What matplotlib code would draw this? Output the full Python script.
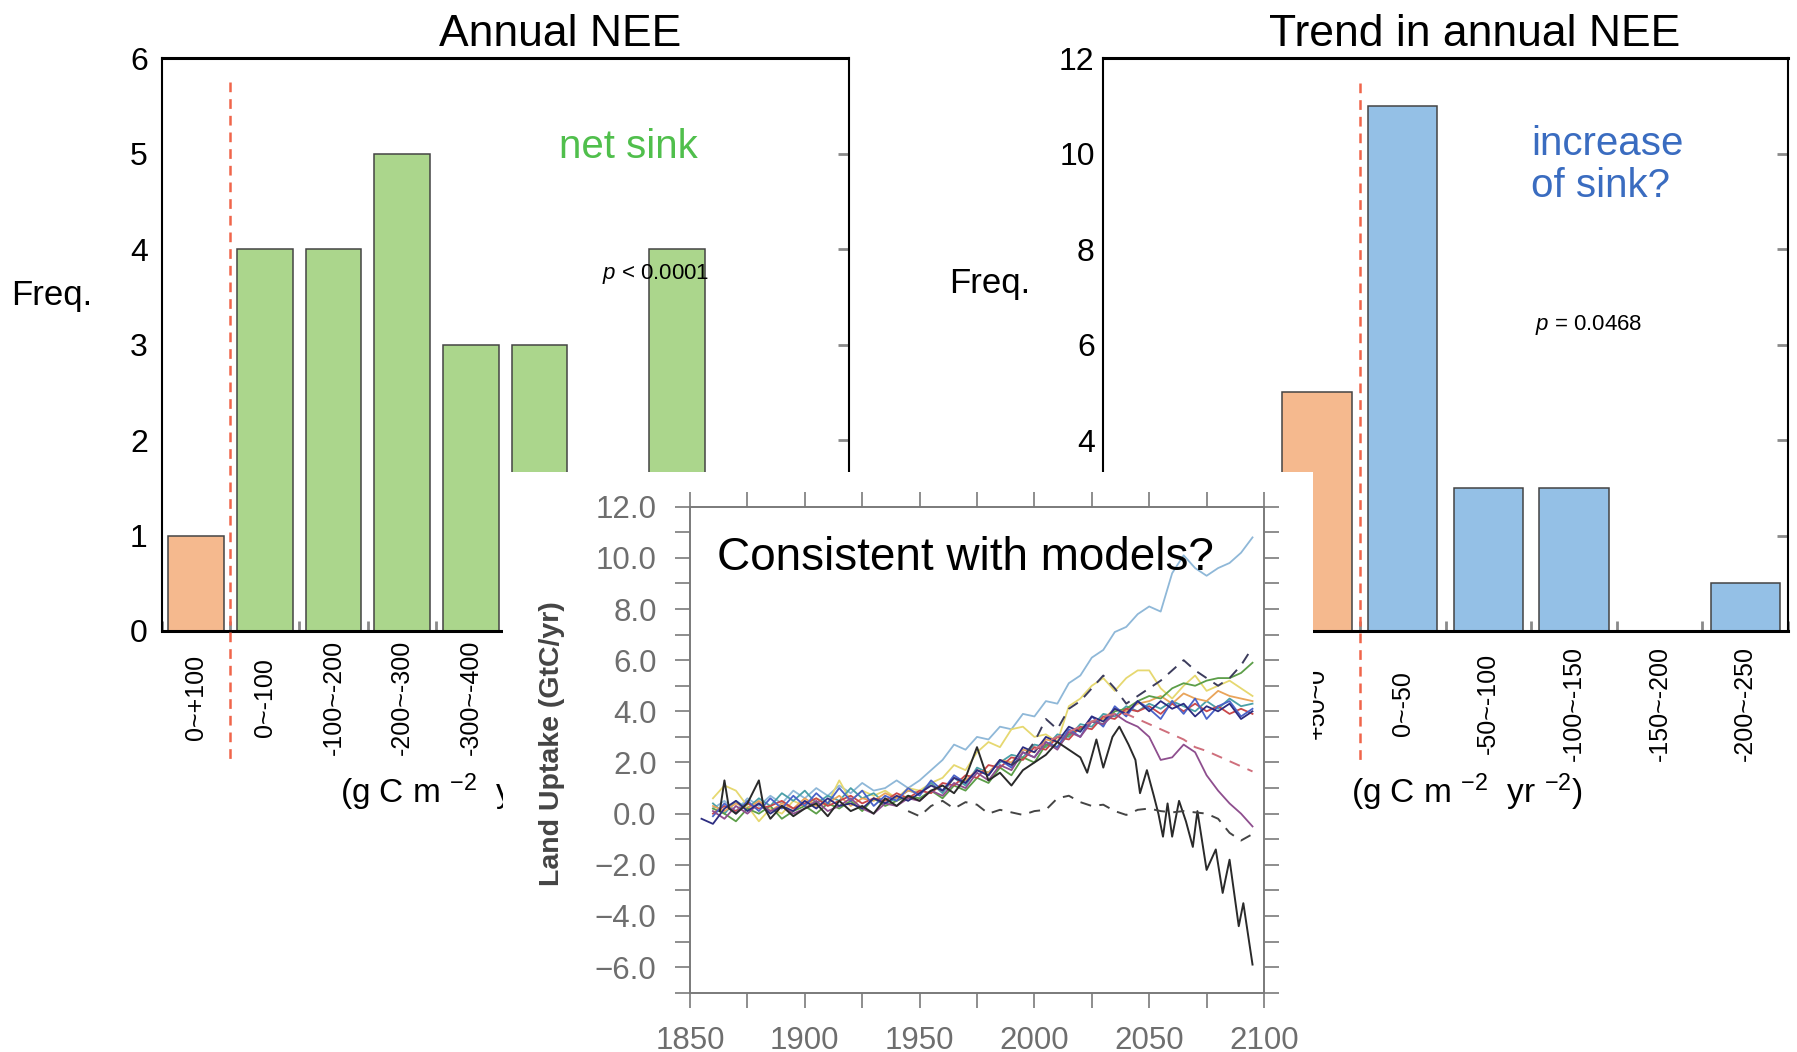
import numpy as np
import matplotlib
matplotlib.use('Agg')
import matplotlib.pyplot as plt
from matplotlib.ticker import MultipleLocator, FuncFormatter

plt.rcParams['font.family'] = ['Liberation Sans', 'DejaVu Sans']
plt.rcParams['mathtext.fontset'] = 'custom'
plt.rcParams['mathtext.rm'] = 'Liberation Sans'
plt.rcParams['mathtext.it'] = 'Liberation Sans:italic'
plt.rcParams['mathtext.bf'] = 'Liberation Sans:bold'
plt.rcParams['lines.scale_dashes'] = False

# ---------------- data ----------------
nee_labels = ['0~+100', '0~-100', '-100~-200', '-200~-300', '-300~-400',
              '-400~-500', '-500~-600', '-600~-700', '-700~-800', '-800~-900']
nee_freq = [1, 4, 4, 5, 3, 3, 0, 4, 0, 0]
nee_n_source = 1

trend_labels = ['+150~+100', '+100~+50', '+50~0', '0~-50', '-50~-100',
                '-100~-150', '-150~-200', '-200~-250']
trend_freq = [0, 0, 5, 11, 3, 3, 0, 1]
trend_n_source = 3

years5 = list(range(1860, 2100, 5))          # 1860 ... 2095
years5_navy = list(range(1855, 2100, 5))     # 1855 ... 2095

lightblue = [0.2, 0.5, 0.1, 0.6, 0.3, 0.7, 0.4, 0.9, 0.6, 1.0,
             0.7, 1.1, 0.8, 1.2, 0.9, 1.0, 1.3, 1.0, 1.3, 1.7,
             2.1, 2.7, 2.5, 3.0, 2.9, 3.4, 3.3, 3.9, 3.8, 4.4,
             4.3, 5.1, 5.4, 6.1, 6.4, 7.1, 7.3, 7.8, 8.1, 7.9,
             9.4, 10.1, 9.6, 9.3, 9.6, 9.8, 10.2, 10.8]
yellow = [0.6, 1.1, 0.9, 0.3, -0.3, 0.2, 0.0, 0.5, 0.3, 0.6,
          0.4, 1.3, 0.5, 0.9, 0.7, 0.9, 0.6, 1.0, 0.9, 1.2,
          1.4, 1.9, 1.7, 2.4, 2.8, 2.6, 3.3, 3.4, 3.0, 3.1,
          2.8, 4.2, 4.5, 5.0, 5.3, 4.8, 5.3, 5.6, 5.6, 4.9,
          4.5, 5.0, 5.4, 4.8, 5.0, 5.2, 4.9, 4.6]
green = [0.2, 0.0, -0.3, 0.2, 0.0, 0.3, -0.2, 0.1, 0.3, 0.0,
         0.4, 0.2, 0.5, 0.1, 0.6, 0.3, 0.5, 0.7, 0.6, 0.9,
         0.6, 1.1, 0.9, 1.4, 1.2, 1.8, 1.5, 2.2, 2.0, 2.7,
         2.6, 3.1, 3.3, 3.6, 3.5, 4.0, 4.1, 4.4, 4.6, 4.5,
         4.9, 5.1, 5.0, 5.2, 5.3, 5.3, 5.5, 5.9]
orange = [0.3, 0.1, 0.4, 0.2, 0.5, 0.1, 0.4, 0.2, 0.6, 0.3,
          0.4, 0.7, 0.3, 0.6, 0.5, 0.8, 0.6, 0.9, 0.8, 1.1,
          0.9, 1.4, 1.3, 1.7, 1.6, 2.1, 2.0, 2.5, 2.4, 2.9,
          2.8, 3.2, 3.3, 3.6, 3.7, 4.1, 4.0, 4.3, 4.4, 4.6,
          4.3, 4.7, 4.5, 4.4, 4.8, 4.6, 4.5, 4.4]
red = [0.0, 0.3, 0.1, 0.4, 0.2, 0.3, 0.5, 0.2, 0.4, 0.6,
       0.3, 0.5, 0.7, 0.4, 0.6, 0.5, 0.8, 0.6, 0.9, 0.8,
       1.2, 1.1, 1.5, 1.4, 1.9, 1.8, 2.2, 2.1, 2.6, 2.5,
       3.0, 2.9, 3.4, 3.3, 3.8, 3.7, 4.1, 4.0, 4.2, 3.9,
       4.3, 4.0, 4.3, 4.0, 4.2, 3.9, 4.1, 3.9]
blue = [-0.1, 0.4, 0.0, 0.5, 0.1, 0.6, 0.2, 0.7, 0.3, 0.8,
        0.4, 1.0, 0.5, 0.9, 0.3, 0.7, 0.5, 1.0, 0.7, 1.3,
        0.9, 1.5, 1.2, 1.7, 1.5, 2.1, 1.8, 2.4, 2.2, 2.8,
        2.6, 3.3, 3.0, 3.8, 3.4, 4.2, 3.8, 4.4, 4.1, 3.7,
        4.4, 3.9, 4.5, 3.7, 4.2, 4.4, 3.8, 4.1]
teal = [0.4, 0.0, 0.5, 0.2, 0.6, 0.3, 0.8, 0.5, 0.9, 0.4,
        0.7, 0.5, 1.0, 0.6, 0.8, 0.4, 0.6, 0.9, 0.8, 1.2,
        0.8, 1.4, 1.1, 1.8, 1.6, 2.0, 2.3, 2.2, 2.7, 2.6,
        3.1, 3.0, 3.5, 3.4, 3.9, 3.8, 4.2, 4.0, 4.3, 4.1,
        4.4, 4.2, 4.0, 4.4, 4.1, 4.5, 4.2, 4.3]
purple = [0.1, -0.2, 0.3, 0.0, 0.4, 0.1, 0.3, 0.0, 0.2, 0.5,
          0.1, 0.3, 0.6, 0.2, 0.0, 0.4, 0.3, 0.6, 0.5, 0.9,
          0.7, 1.2, 1.0, 1.6, 1.3, 1.9, 1.7, 2.4, 2.2, 2.8,
          2.5, 3.2, 3.0, 3.6, 3.5, 3.9, 3.6, 3.4, 3.0, 2.1,
          2.2, 2.7, 2.4, 1.5, 0.9, 0.4, 0.0, -0.5]
navy = [-0.2, -0.4, 0.2, 0.5, 0.1, 0.4, 0.0, 0.3, 0.1, 0.5,
        0.2, 0.6, 0.3, 0.4, 0.2, 0.6, 0.4, 0.7, 0.5, 0.8,
        1.1, 0.9, 1.4, 1.2, 1.7, 1.5, 2.1, 1.9, 2.6, 2.4,
        3.0, 2.8, 3.4, 3.2, 3.8, 3.6, 4.1, 3.9, 4.4, 4.0,
        4.4, 4.1, 4.3, 3.8, 4.2, 4.0, 4.3, 3.7, 4.0]

black_years = [1863, 1865, 1867, 1870, 1875, 1880, 1882, 1885, 1890, 1895,
               1900, 1905, 1910, 1915, 1920, 1925, 1930, 1935, 1940, 1945,
               1950, 1955, 1960, 1965, 1970, 1975, 1978, 1980, 1985, 1990,
               1995, 2000, 2005, 2010, 2015, 2020, 2023, 2027, 2030, 2034,
               2037, 2041, 2044, 2046, 2049, 2052, 2054, 2056, 2058, 2060,
               2063, 2066, 2069, 2071, 2075, 2079, 2082, 2085, 2089, 2091,
               2095]
black = [0.1, 1.3, 0.2, 0.0, 0.4, 1.3, 0.3, -0.2, 0.3, -0.1,
         0.2, 0.4, -0.1, 0.5, 0.1, 0.3, 0.0, 0.6, 0.3, 0.7,
         0.5, 0.9, 1.1, 0.8, 1.4, 2.6, 1.8, 1.3, 1.6, 1.1,
         1.7, 2.0, 2.3, 2.8, 2.5, 2.2, 1.6, 2.9, 1.8, 3.0,
         3.4, 2.7, 2.1, 0.8, 1.7, 0.7, 0.0, -0.9, 0.4, -0.9,
         0.5, -0.3, -1.3, 0.1, -2.2, -1.4, -3.1, -1.8, -4.4, -3.5,
         -5.9]

darkdash_years = list(range(1990, 2100, 5))
darkdash = [1.9, 2.2, 2.8, 3.7, 3.3, 4.1, 4.4, 4.9, 5.4, 4.9, 4.3,
            4.6, 4.9, 5.2, 5.6, 6.0, 5.6, 5.3, 5.0, 5.3, 5.8, 6.5]
blackdash_years = list(range(1945, 2100, 5))
blackdash = [0.1, -0.1, 0.3, 0.5, 0.2, 0.45, 0.35, 0.0, 0.15, 0.05,
             -0.05, 0.1, 0.15, 0.6, 0.7, 0.45, 0.3, 0.35, 0.1, -0.05,
             0.15, 0.2, 0.1, 0.05, 0.1, 0.05, 0.0, -0.2, -0.75, -1.05, -0.8]
pinkdash_years = list(range(2000, 2100, 5))
pinkdash = [2.5, 2.8, 3.0, 3.2, 3.4, 3.6, 3.8, 3.9, 3.9, 3.7,
            3.5, 3.3, 3.1, 2.9, 2.6, 2.45, 2.25, 2.05, 1.85, 1.65]

# ---------------- figure ----------------
W, H = 1797, 1052
fig = plt.figure(figsize=(W / 100, H / 100), dpi=100)


def frac(x0, y0, x1, y1):
    return [x0 / W, 1 - y1 / H, (x1 - x0) / W, (y1 - y0) / H]


SRC = '#f5b98e'
RED = '#f0654a'
GRAY_TICK = '#8a8a8a'


def histogram(ax, labels, freq, n_src, sink_color, ymax, ystep, xpad, ypad,
              dash_top, dash_bot):
    x = np.arange(len(labels))
    colors = [SRC if i < n_src else sink_color for i in x]
    ax.bar(x, freq, width=0.81, color=colors, edgecolor='#444444',
           linewidth=1.1, zorder=2)
    ax.set_xlim(-0.5, len(labels) - 0.5)
    ax.set_ylim(0, ymax)
    ax.set_yticks(np.arange(0, ymax + 0.01, ystep))
    ax.tick_params(axis='y', which='major', left=False, right=True,
                   direction='in', length=8, width=2, color=GRAY_TICK,
                   labelsize=23, pad=ypad)
    ax.set_xticks(x)
    ax.set_xticklabels(labels, rotation=90, va='center', ha='center',
                       fontsize=18)
    ax.tick_params(axis='x', which='major', length=0, pad=xpad)
    ax.set_xticks(np.arange(-0.5, len(labels)), minor=True)
    ax.tick_params(axis='x', which='minor', bottom=True, direction='in',
                   length=7, width=2, color=GRAY_TICK)
    ax.spines['top'].set_linewidth(2.2)
    ax.spines['bottom'].set_linewidth(2.2)
    ax.spines['left'].set_linewidth(1.5)
    ax.spines['right'].set_linewidth(1.5)
    ax.plot([n_src - 0.5] * 2, [dash_top, dash_bot], color=RED, lw=1.8,
            dashes=(7, 5), clip_on=False, zorder=3)


ax1 = fig.add_axes(frac(161.7, 58.4, 848.5, 631), zorder=1)
histogram(ax1, nee_labels, nee_freq, nee_n_source, '#abd68c', 6, 1,
          48, 10, 5.75, -1.37)
ax2 = fig.add_axes(frac(1103, 58.4, 1788, 631), zorder=1)
histogram(ax2, trend_labels, trend_freq, trend_n_source, '#94c0e6', 12, 2,
          52.5, 6, 11.49, -2.75)

# titles & annotations
ax1.text(560 / W, 1 - 46 / H, 'Annual NEE', transform=fig.transFigure,
         ha='center', va='baseline', fontsize=32)
ax2.text(1475 / W, 1 - 46 / H, 'Trend in annual NEE', transform=fig.transFigure,
         ha='center', va='baseline', fontsize=32)
fig.text(11 / W, 1 - 296 / H, 'Freq.', ha='left', va='center', fontsize=25)
fig.text(949 / W, 1 - 283 / H, 'Freq.', ha='left', va='center', fontsize=25)
fig.text(559 / W, 1 - 147 / H, 'net sink', ha='left', va='center',
         fontsize=29, color='#50bf4c')
fig.text(1531 / W, 1 - 144 / H, 'increase', ha='left', va='center',
         fontsize=29, color='#3a6cc0')
fig.text(1531 / W, 1 - 186 / H, 'of sink?', ha='left', va='center',
         fontsize=29, color='#3a6cc0')
fig.text(602 / W, 1 - 274 / H, r'$p$ < 0.0001', ha='left', va='center',
         fontsize=16)
fig.text(1535 / W, 1 - 325 / H, r'$p$ = 0.0468', ha='left', va='center',
         fontsize=16)
ax1.text(340 / W, 1 - 792 / H, r'(g C m $^{-2}$  yr $^{-1}$)',
         transform=fig.transFigure, ha='left', va='center', fontsize=24,
         clip_on=False)
ax2.text(1351 / W, 1 - 792 / H, r'(g C m $^{-2}$  yr $^{-2}$)',
         transform=fig.transFigure, ha='left', va='center', fontsize=24,
         clip_on=False)

# ---------------- inset ----------------
bg = fig.add_axes(frac(503, 472, 1313, 1052), zorder=4)
bg.set_facecolor('white')
bg.set_xticks([])
bg.set_yticks([])
for s in bg.spines.values():
    s.set_visible(False)

axi = fig.add_axes(frac(690, 506.7, 1264, 992.7), zorder=5)
axi.set_xlim(1850, 2100)
axi.set_ylim(-7, 12)
SP = '#7a7a7a'
for s in axi.spines.values():
    s.set_color(SP)
    s.set_linewidth(1.4)
axi.xaxis.set_major_locator(MultipleLocator(50))
axi.xaxis.set_minor_locator(MultipleLocator(25))
axi.yaxis.set_major_locator(MultipleLocator(2))
axi.yaxis.set_minor_locator(MultipleLocator(1))
axi.yaxis.set_major_formatter(
    FuncFormatter(lambda v, p: ('%.1f' % v).replace('-', '\u2212')))
axi.tick_params(which='both', direction='out', length=11, width=1.2,
                color=SP, top=True, right=True, labelcolor='#6e6e6e',
                labelsize=22.5)
axi.tick_params(axis='x', which='major', pad=13)
axi.tick_params(axis='y', which='major', pad=13)

lw = 1.3
series = [
    (years5, lightblue, '#8fb8d8'),
    (years5, yellow, '#e6d870'),
    (years5, teal, '#4aa0a8'),
    (years5, orange, '#e9a45a'),
    (years5, green, '#5c9e48'),
    (years5, red, '#c9484a'),
    (years5, blue, '#4a62c8'),
    (years5, purple, '#8e4e8e'),
    (years5_navy, navy, '#2c2c80'),
]
for xs, ys, c in series:
    axi.plot(xs, ys, color=c, lw=lw, zorder=3)
axi.plot(black_years, black, color='#2a2a2a', lw=1.4, zorder=4)
axi.plot(darkdash_years, darkdash, color='#3c3c5c', lw=1.4, dashes=(8, 6), zorder=4)
axi.plot(blackdash_years, blackdash, color='#444444', lw=1.4, dashes=(8, 6), zorder=4)
axi.plot(pinkdash_years, pinkdash, color='#cf6f7c', lw=1.4, dashes=(8, 6), zorder=4)

axi.text(552 / W, 1 - 744 / H, 'Land Uptake (GtC/yr)', transform=fig.transFigure,
         rotation=90, ha='center', va='center', fontsize=20.5,
         fontweight='bold', color='#444444')
axi.text(717 / W, 1 - 570 / H, 'Consistent with models?', transform=fig.transFigure,
         ha='left', va='baseline', fontsize=33, color='black', zorder=10)

fig.savefig('out.png', dpi=100)
